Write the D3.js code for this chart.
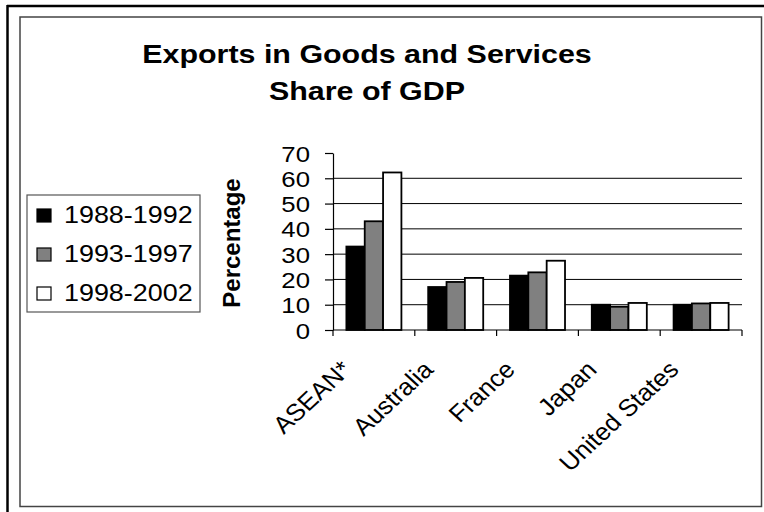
<!DOCTYPE html>
<html>
<head>
<meta charset="utf-8">
<script src="https://cdn.jsdelivr.net/npm/d3@7"></script>
<style>
  body { margin: 0; background: #fff; }
  svg { display: block; font-family: "Liberation Sans", Arial, sans-serif; }
</style>
</head>
<body>
<svg id="chart" width="764" height="512"></svg>
<script>
// data
var categories = ["ASEAN*", "Australia", "France", "Japan", "United States"];
var seriesNames = ["1988-1992", "1993-1997", "1998-2002"];
var s1988 = [33, 17, 21.5, 10, 10];
var s1993 = [43, 19, 22.8, 9.2, 10.5];
var s1998 = [62.3, 20.6, 27.4, 10.7, 10.7];
var yTicks = [0, 10, 20, 30, 40, 50, 60, 70];
var fills = ["#000000", "#808080", "#ffffff"];

var series = [s1988, s1993, s1998];
var stretch = 1.17; // the picture is a bit wider than tall

var svg = d3.select("#chart");

// frames
svg.append("rect").attr("x", 20).attr("y", 17).attr("width", 741.5).attr("height", 489.5)
	.attr("fill", "#fff").attr("stroke", "#444").attr("stroke-width", 1.5);
svg.append("line").attr("x1", 7).attr("x2", 764).attr("y1", 6).attr("y2", 6)
	.attr("stroke", "#000").attr("stroke-width", 2.5);
svg.append("line").attr("x1", 7.5).attr("x2", 7.5).attr("y1", 5).attr("y2", 512)
	.attr("stroke", "#000").attr("stroke-width", 2.5);

// title
var title = ["Exports in Goods and Services", "Share of GDP"];
title.forEach(function(t, i) {
	svg.append("text")
		.attr("transform", "translate(367," + (63 + i * 37) + ") scale(" + stretch + ",1)")
		.attr("text-anchor", "middle")
		.attr("font-size", 26).attr("font-weight", "bold")
		.text(t);
});

var x0 = d3.scaleBand().domain(categories).range([333, 742]);
var x1 = d3.scaleBand().domain(seriesNames).range([0, x0.bandwidth()]).paddingOuter(0.73);
var y = d3.scaleLinear().domain([0, 70]).range([330, 153]);

// gridlines
svg.append("g").selectAll("line")
	.data(yTicks.filter(function(d) { return d > 0 && d < 70; }))
	.enter().append("line")
	.attr("x1", 333).attr("x2", 742)
	.attr("y1", function(d) { return y(d); }).attr("y2", function(d) { return y(d); })
	.attr("stroke", "#000").attr("stroke-width", 1);

// y axis
var yAxis = svg.append("g").attr("transform", "translate(333,0)")
	.call(d3.axisLeft(y).tickValues(yTicks).tickSize(8).tickSizeOuter(0));
yAxis.select(".domain").attr("stroke", "#000").attr("stroke-width", 1.2);
yAxis.selectAll(".tick line").attr("stroke", "#000").attr("stroke-width", 1.2);
yAxis.selectAll(".tick text")
	.attr("x", null).attr("dy", null)
	.attr("transform", "translate(-23,8) scale(" + stretch + ",1)")
	.attr("font-size", 22).attr("font-family", "Liberation Sans, Arial, sans-serif")
	.attr("fill", "#000");

// bars
var groups = svg.append("g").selectAll("g")
	.data(categories).enter().append("g")
	.attr("transform", function(c) { return "translate(" + x0(c) + ",0)"; });

groups.selectAll("rect")
	.data(function(c, i) {
		return series.map(function(s, k) { return { name: seriesNames[k], value: s[i], k: k }; });
	})
	.enter().append("rect")
	.attr("x", function(d) { return x1(d.name); })
	.attr("width", x1.bandwidth())
	.attr("y", function(d) { return y(d.value); })
	.attr("height", function(d) { return y(0) - y(d.value); })
	.attr("fill", function(d) { return fills[d.k]; })
	.attr("stroke", "#000").attr("stroke-width", 1.8);

// x axis
var xBounds = categories.map(function(c) { return x0(c); }).concat([742]);
svg.append("line").attr("x1", 333).attr("x2", 742).attr("y1", 330).attr("y2", 330)
	.attr("stroke", "#000").attr("stroke-width", 1.2);
svg.append("g").selectAll("line").data(xBounds).enter().append("line")
	.attr("x1", function(d) { return d; }).attr("x2", function(d) { return d; })
	.attr("y1", 330).attr("y2", 336)
	.attr("stroke", "#000").attr("stroke-width", 1.2);

svg.append("g").selectAll("text").data(categories).enter().append("text")
	.attr("transform", function(c) {
		return "translate(" + (x0(c) + x0.bandwidth() / 2 - 21) + ",371) scale(1.08,1) rotate(-45)";
	})
	.attr("text-anchor", "end")
	.attr("font-size", 24)
	.text(function(c) { return c; });

// y axis title
svg.append("text")
	.attr("transform", "translate(240,243) rotate(-90)")
	.attr("text-anchor", "middle")
	.attr("font-size", 24).attr("font-weight", "bold")
	.text("Percentage");

// legend
var legend = svg.append("g");
legend.append("rect").attr("x", 27).attr("y", 195).attr("width", 173).attr("height", 117)
	.attr("fill", "#fff").attr("stroke", "#555").attr("stroke-width", 1.2);
var items = legend.selectAll("g.item").data(seriesNames).enter().append("g")
	.attr("class", "item")
	.attr("transform", function(d, i) { return "translate(0," + (i * 39) + ")"; });
items.append("rect").attr("x", 37).attr("y", 209).attr("width", 14).attr("height", 13)
	.attr("fill", function(d, i) { return fills[i]; })
	.attr("stroke", "#000").attr("stroke-width", 1.2);
items.append("text")
	.attr("transform", "translate(64,223) scale(" + stretch + ",1)")
	.attr("font-size", 23)
	.text(function(d) { return d; });
</script>
</body>
</html>
